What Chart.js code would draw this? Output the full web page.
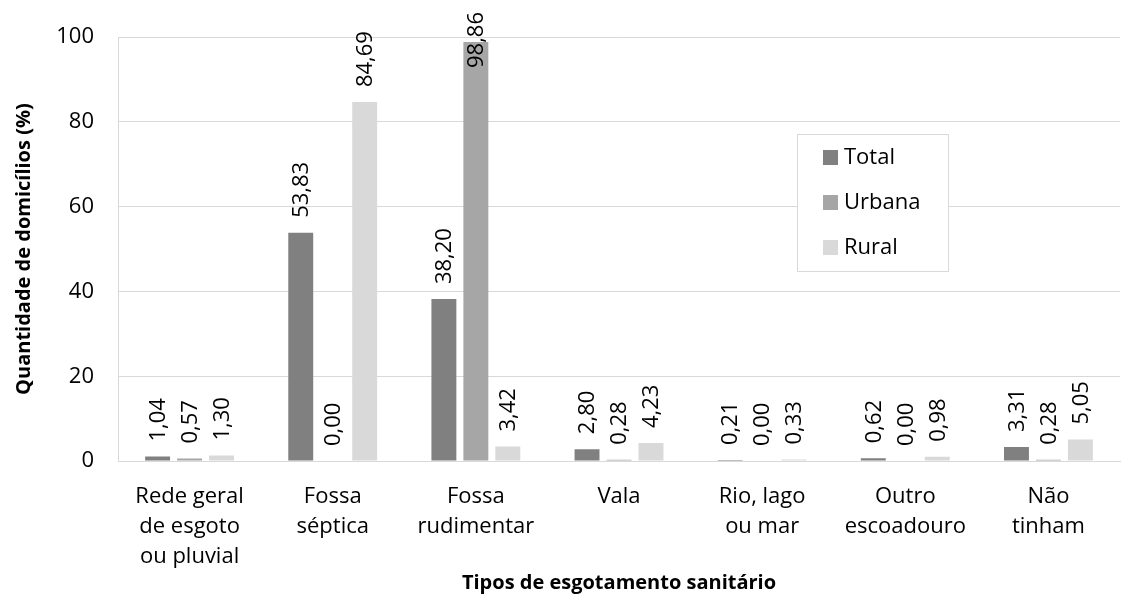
<!DOCTYPE html>
<html>
<head>
<meta charset="utf-8">
<script src="https://cdn.jsdelivr.net/npm/chart.js@4.4.1/dist/chart.umd.min.js"></script>
<style>
  body { margin: 0; background: #fff; }
  #wrap { width: 1126px; height: 595px; }
</style>
</head>
<body>
<div id="wrap"><canvas id="myChart" width="1126" height="595"></canvas></div>
<script>
const categories = [
  ["Rede geral", "de esgoto", "ou pluvial"],
  ["Fossa", "séptica"],
  ["Fossa", "rudimentar"],
  ["Vala"],
  ["Rio, lago", "ou mar"],
  ["Outro", "escoadouro"],
  ["Não", "tinham"]
];
const seriesNames = ["Total", "Urbana", "Rural"];
const seriesColors = ["#808080", "#a6a6a6", "#d9d9d9"];
const total = [1.04, 53.83, 38.20, 2.80, 0.21, 0.62, 3.31];
const urbana = [0.57, 0.00, 98.86, 0.28, 0.00, 0.00, 0.28];
const rural = [1.30, 84.69, 3.42, 4.23, 0.33, 0.98, 5.05];
const yTicks = [0, 20, 40, 60, 80, 100];

const FONT = "'Open Sans', sans-serif";
const ctx = document.getElementById("myChart").getContext("2d");

// value labels, rotated, just above each bar (kept inside the canvas)
const barLabels = {
  id: "barLabels",
  afterDatasetsDraw(chart) {
    const c = chart.ctx;
    c.save();
    c.font = "22px " + FONT;
    c.fillStyle = "#000";
    c.textBaseline = "middle";
    c.textAlign = "left";
    chart.data.datasets.forEach((ds, di) => {
      const meta = chart.getDatasetMeta(di);
      meta.data.forEach((bar, i) => {
        const txt = ds.data[i].toFixed(2).replace(".", ",");
        const w = c.measureText(txt).width;
        let start = bar.y - 15;
        if (start - w < 12) start = 12 + w;
        c.save();
        c.translate(bar.x, start);
        c.rotate(-Math.PI / 2);
        c.fillText(txt, 0, 1);
        c.restore();
      });
    });
    c.restore();
  }
};

// boxed legend inside the plot
const boxLegend = {
  id: "boxLegend",
  afterDraw(chart) {
    const c = chart.ctx;
    c.save();
    c.fillStyle = "#fff";
    c.fillRect(797, 134, 151, 137);
    c.strokeStyle = "#d9d9d9";
    c.lineWidth = 1;
    c.strokeRect(797.5, 134.5, 151, 137);
    c.font = "22px " + FONT;
    c.textBaseline = "middle";
    chart.data.datasets.forEach((ds, i) => {
      const y = 157 + i * 45;
      c.fillStyle = ds.backgroundColor;
      c.fillRect(823, y - 7, 15, 15);
      c.fillStyle = "#000";
      c.fillText(ds.label, 844, y + 1);
    });
    c.restore();
  }
};

const data = {
  labels: categories,
  datasets: [
    { label: seriesNames[0], data: total, backgroundColor: seriesColors[0] },
    { label: seriesNames[1], data: urbana, backgroundColor: seriesColors[1] },
    { label: seriesNames[2], data: rural, backgroundColor: seriesColors[2] }
  ]
};

const config = {
  type: "bar",
  data: data,
  options: {
    responsive: false,
    animation: false,
    layout: { padding: { left: 0, right: 6, top: 36, bottom: 0 } },
    datasets: { bar: { barPercentage: 0.78, categoryPercentage: 0.67 } },
    plugins: {
      legend: { display: false },
      tooltip: { enabled: false }
    },
    scales: {
      x: {
        grid: { display: false, drawTicks: false },
        border: { color: "#d9d9d9", width: 1 },
        ticks: {
          color: "#000",
          padding: 21,
          maxRotation: 0,
          autoSkip: false,
          font: { family: FONT, size: 22, lineHeight: 1.36 }
        },
        title: {
          display: true,
          text: "Tipos de esgotamento sanitário",
          color: "#000",
          padding: { top: 0, bottom: 0 },
          font: { family: FONT, size: 20, weight: "bold" }
        },
        afterFit(scale) { scale.height = 134; }
      },
      y: {
        min: 0,
        max: 100,
        afterBuildTicks(scale) { scale.ticks = yTicks.map(v => ({ value: v })); },
        grid: { color: "#d9d9d9", drawTicks: false },
        border: { color: "#d9d9d9", width: 1 },
        ticks: {
          color: "#000",
          padding: 24,
          font: { family: FONT, size: 22 }
        },
        title: {
          display: true,
          text: "Quantidade de domicílios (%)",
          color: "#000",
          padding: { top: 12, bottom: 0 },
          font: { family: FONT, size: 20, weight: "bold" }
        },
        afterFit(scale) { scale.width = 118; }
      }
    }
  },
  plugins: [barLabels, boxLegend]
};

const myChart = new Chart(ctx, config);
</script>
</body>
</html>
